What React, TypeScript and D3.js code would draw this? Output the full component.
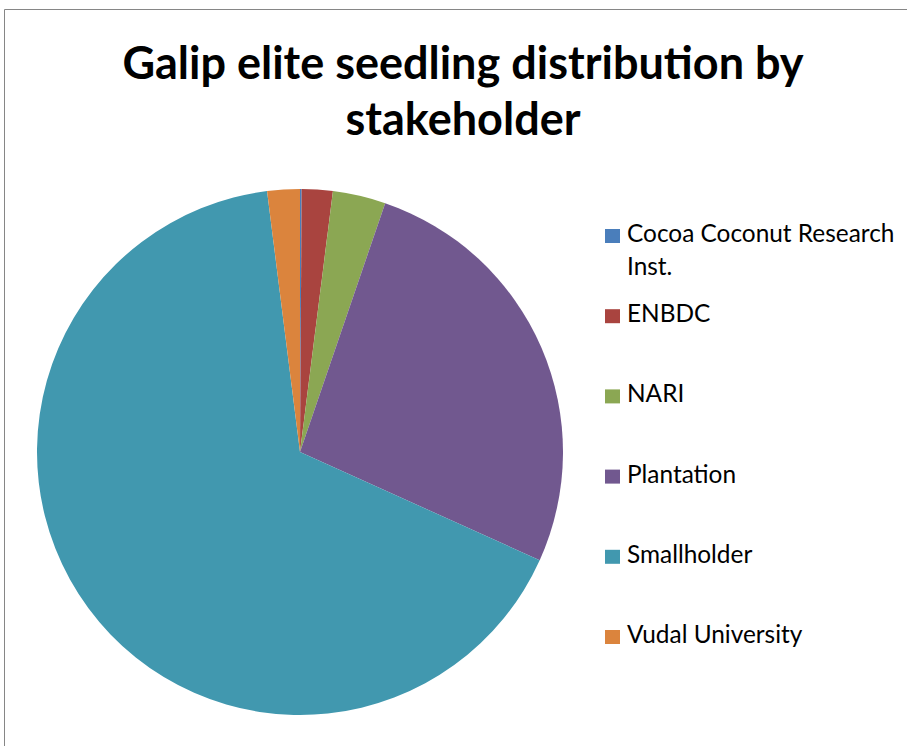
import React, { useRef, useEffect } from "react";
import * as d3 from "d3";

// Seedlings distributed (share)
const stakeholders = [
  "Cocoa Coconut Research Inst.",
  "ENBDC",
  "NARI",
  "Plantation",
  "Smallholder",
  "Vudal University",
];
const seedlings = [10, 190, 325, 2650, 6625, 200];
const sliceColors = ["#4A7EBB", "#A9443F", "#8BA753", "#71588F", "#4198AF", "#DB843D"];
const titleLines = ["Galip elite seedling distribution by", "stakeholder"];

const App: React.FC = () => {
  const svgRef = useRef<SVGSVGElement>(null);

  useEffect(() => {
    if (!svgRef.current) return;

    const width = 907;
    const height = 746;
    const cx = 300;
    const cy = 452;
    const radius = 263;

    const svg = d3
      .select(svgRef.current)
      .attr("width", width)
      .attr("height", height)
      .attr("viewBox", [0, 0, width, height]);

    // chart area border (only top and left visible)
    svg
      .append("path")
      .attr("d", `M4.5,${height} L4.5,9.5 L${width},9.5`)
      .attr("fill", "none")
      .attr("stroke", "#868686")
      .attr("stroke-width", 1);

    // title
    svg
      .append("g")
      .attr("text-anchor", "middle")
      .style("font-family", "Lato, 'Open Sans', sans-serif")
      .style("font-weight", "bold")
      .style("font-size", "45px")
      .selectAll("text")
      .data(titleLines)
      .join("text")
      .attr("x", 463)
      .attr("y", (d, i) => 79 + i * 56)
      .attr("fill", "#000")
      .text((d) => d);

    const data = stakeholders.map((name, i) => ({ name, value: seedlings[i] }));
    const color = d3.scaleOrdinal<string, string>().domain(stakeholders).range(sliceColors);

    const pie = d3
      .pie<any>()
      .sort(null)
      .value((d: any) => d.value);

    const arc = d3.arc<any>().innerRadius(0).outerRadius(radius);

    svg
      .append("g")
      .attr("transform", `translate(${cx},${cy})`)
      .selectAll("path")
      .data(pie(data))
      .join("path")
      .attr("d", arc)
      .attr("fill", (d: any) => color(d.data.name));

    // legend
    const legendY = d3.scalePoint<string>().domain(stakeholders).range([236, 637]);
    const legend = svg
      .append("g")
      .style("font-family", "Lato, 'Open Sans', sans-serif")
      .style("font-size", "24.4px")
      .selectAll("g")
      .data(stakeholders)
      .join("g")
      .attr("transform", (d) => `translate(605,${legendY(d)})`);

    legend
      .append("rect")
      .attr("x", 0)
      .attr("y", -7)
      .attr("width", 15)
      .attr("height", 14)
      .attr("fill", (d) => color(d));

    legend
      .append("text")
      .attr("x", 22)
      .attr("y", 6)
      .attr("fill", "#000")
      .each(function (d) {
        const lines = d === stakeholders[0] ? ["Cocoa Coconut Research", "Inst."] : [d];
        d3.select(this)
          .selectAll("tspan")
          .data(lines)
          .join("tspan")
          .attr("x", 22)
          .attr("dy", (l, i) => (i === 0 ? 0 : 33))
          .text((l) => l);
      });

    return () => {
      svg.selectAll("*").remove();
    };
  }, []);

  return (
    <svg
      ref={svgRef}
      style={{ position: "absolute", left: 0, top: 0, background: "#fff" }}
    ></svg>
  );
};

export default App;
